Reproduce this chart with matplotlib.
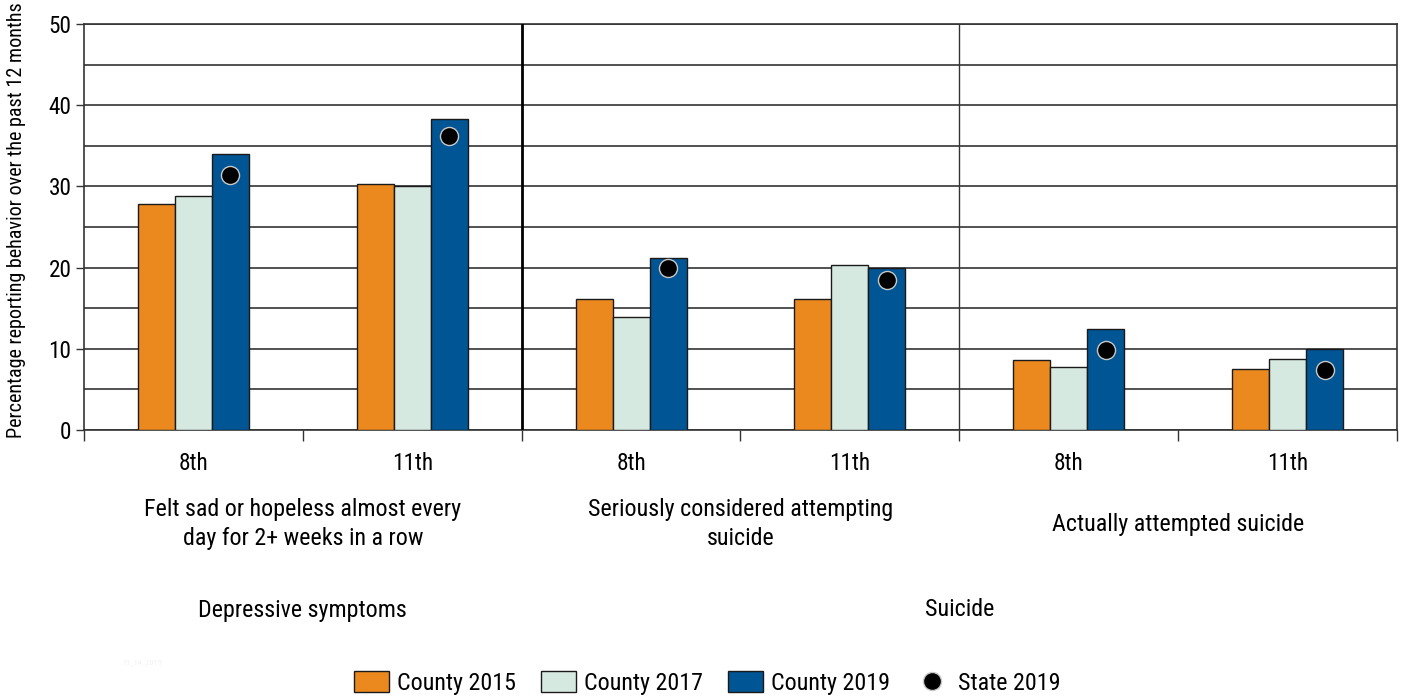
import matplotlib
matplotlib.use("Agg")
import matplotlib.pyplot as plt
from matplotlib import font_manager
from matplotlib.patches import Patch
from matplotlib.lines import Line2D
import matplotlib.transforms as mtransforms
import numpy as np

# ---- pick a narrow / condensed font if one is installed ----
fl = font_manager.fontManager.ttflist
names = {f.name for f in fl}
FONT, STRETCH = None, "normal"
for cand in ["Liberation Sans Narrow", "Roboto Condensed", "Open Sans Condensed",
             "Noto Sans Condensed", "DejaVu Sans Condensed", "Arial Narrow"]:
    if cand in names:
        FONT = cand
        break
if FONT is None:
    for f in fl:
        st = f.stretch
        if (isinstance(st, str) and "condensed" in st) or (isinstance(st, int) and st < 500):
            if f.name in ("Roboto", "Noto Sans", "Open Sans", "DejaVu Sans", "Liberation Sans", "Inter", "Lato"):
                FONT, STRETCH = f.name, "condensed"
                break
if FONT is None:
    FONT = "Liberation Sans" if "Liberation Sans" in names else "DejaVu Sans"
plt.rcParams['font.family'] = [FONT, 'DejaVu Sans']
plt.rcParams['font.stretch'] = STRETCH

# ---- data ----
grades = ["8th", "11th", "8th", "11th", "8th", "11th"]
county_2015 = [27.8, 30.3, 16.1, 16.1, 8.6, 7.5]
county_2017 = [28.8, 30.0, 13.9, 20.3, 7.7, 8.8]
county_2019 = [34.0, 38.3, 21.2, 19.9, 12.4, 10.0]
state_2019 = [31.4, 36.2, 20.0, 18.5, 9.9, 7.4]
behaviors = ["Felt sad or hopeless almost every\nday for 2+ weeks in a row",
             "Seriously considered attempting\nsuicide",
             "Actually attempted suicide"]
domains = ["Depressive symptoms", "Suicide"]
series_names = ["County 2015", "County 2017", "County 2019", "State 2019"]

C15 = "#EB891E"
C17 = "#D6E9E0"
C19 = "#005595"

fig = plt.figure(figsize=(14.04, 7.00), dpi=100)
renderer = fig.canvas.get_renderer()


def fit_size(s, target_px):
    t = fig.text(0, 0, s, fontsize=10)
    w = t.get_window_extent(renderer).width
    t.remove()
    return 10 * target_px / w


BIG = fit_size("Felt sad or hopeless almost every", 315)
LEG = fit_size("County 2015", 118)
YL = fit_size("Percentage reporting behavior over the past 12 months", 434)
TICK = BIG * 0.97

ax = fig.add_axes([84/1404, 1-430/700, (1397-84)/1404, (430-24)/700])

x = np.arange(len(grades))
w = 0.169
for off, vals, col in [(-w, county_2015, C15), (0, county_2017, C17), (w, county_2019, C19)]:
    ax.bar(x + off, vals, width=w, color=col, edgecolor="#1a1a1a", linewidth=1.0, zorder=3)
ax.plot(x + w, state_2019, linestyle="none", marker="o", markersize=13,
        markerfacecolor="black", markeredgecolor="#c8c8c8", markeredgewidth=1.0, zorder=4)

ax.set_xlim(-0.5, len(grades) - 0.5)
ax.set_ylim(0, 50)
ax.set_yticks(np.arange(0, 51, 10))
ax.set_yticks(np.arange(0, 51, 5), minor=True)
ax.tick_params(axis="y", which="major", labelsize=TICK, length=6, width=1, pad=3, color="#333333")
ax.tick_params(axis="y", which="minor", length=0)
ax.grid(axis="y", which="both", color="#333333", linewidth=1.2, zorder=0)

ax.set_xticks(np.arange(-0.5, len(grades), 1.0))
ax.set_xticklabels([])
ax.set_xticks(x, minor=True)
ax.set_xticklabels(grades, minor=True)
ax.tick_params(axis="x", which="major", length=8, width=1, direction="out", color="#333333")
ax.tick_params(axis="x", which="minor", length=0, labelsize=TICK, pad=16)

for s in ax.spines.values():
    s.set_color("#333333")
    s.set_linewidth(1.2)

ax.axvline(1.5, color="black", linewidth=2.0, zorder=5)
ax.axvline(3.5, color="#333333", linewidth=1.0, zorder=5)

ax.set_ylabel("Percentage reporting behavior over the past 12 months", fontsize=YL)
ax.yaxis.set_label_coords(-(84 - 26) / (1397 - 84), (430 - 220) / 406)

trans = mtransforms.blended_transform_factory(ax.transData, fig.transFigure)
for i, b in enumerate(behaviors):
    ax.text(2 * i + 0.5, 1 - 524/700, b, transform=trans, ha="center", va="center",
            fontsize=BIG, linespacing=1.3)
ax.text(0.5, 1 - 610/700, domains[0], transform=trans, ha="center", va="center", fontsize=BIG)
ax.text(3.5, 1 - 610/700, domains[1], transform=trans, ha="center", va="center", fontsize=BIG)

fig.text(122/1404, 1 - 662/700, "11_14_2019", fontsize=6, color="#f2f2f2", ha="left", va="center")

lpx = LEG * 100 / 72
handles = [Patch(facecolor=C15, edgecolor="#1a1a1a"),
           Patch(facecolor=C17, edgecolor="#1a1a1a"),
           Patch(facecolor=C19, edgecolor="#1a1a1a"),
           Line2D([], [], linestyle="none", marker="o", markersize=13,
                  markerfacecolor="black", markeredgecolor="#c8c8c8")]
fig.legend(handles, series_names, loc="center", bbox_to_anchor=(707/1404, 1 - 683/700),
           ncol=4, frameon=False, fontsize=LEG, handlelength=35/lpx, handleheight=22/lpx,
           handletextpad=8/lpx, columnspacing=25/lpx, borderaxespad=0, borderpad=0)

fig.savefig("out.png", dpi=100)
